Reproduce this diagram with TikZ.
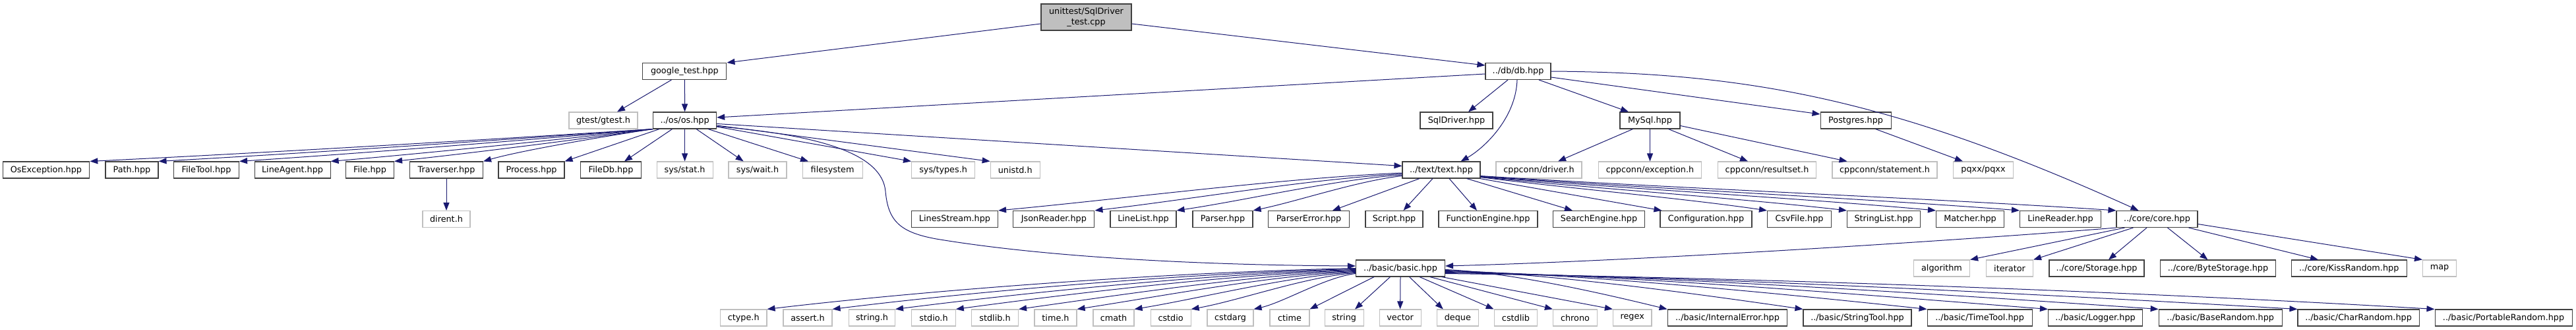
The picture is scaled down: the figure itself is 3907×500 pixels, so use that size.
\documentclass[tikz,border=0pt]{standalone}
\usepackage{fontspec}
\setmainfont{DejaVu Sans}
\usetikzlibrary{arrows.meta}
\definecolor{edgecol}{HTML}{191970}
\definecolor{boxcol}{HTML}{404040}
\definecolor{extcol}{HTML}{BFBFBF}
\tikzset{
 box/.style={rectangle, minimum height=25pt, inner sep=0pt, fill=white, text=black},
 nb/.style={box, draw=boxcol, line width=1.1pt},
 ext/.style={box, draw=extcol, line width=1.1pt},
 rootbox/.style={box, draw=boxcol, fill=extcol, line width=1.1pt, minimum height=40pt, align=center},
 dep/.style={draw=edgecol, line width=1pt, -{Triangle[length=12pt,width=9pt]}},
 w/.style={minimum width=#1}
}
\begin{document}
\begin{tikzpicture}[x=1pt,y=-1pt,font=\fontsize{12.8pt}{15.3pt}\selectfont]
\useasboundingbox[fill=white] (0,0) rectangle (3907,500);
% row 0
\node[rootbox, w=137pt] (root) at (1647.5,26) {unittest/SqlDriver\\\_test.cpp};
% row 1
\node[nb, w=127pt] (gt) at (1038.4,108) {google\_test.hpp};
\node[nb, w=99pt] (db) at (2302.5,108) {../db/db.hpp};
% row 2
\node[ext, w=104pt] (gtest) at (915,182.5) {gtest/gtest.h};
\node[nb, w=96pt] (os) at (1038.6,182.5) {../os/os.hpp};
\node[nb, w=110pt] (sqld) at (2209,182.5) {SqlDriver.hpp};
\node[nb, w=91pt] (mysql) at (2502.5,182.5) {MySql.hpp};
\node[nb, w=107pt] (pg) at (2814.6,182.5) {Postgres.hpp};
% row 3
\node[nb, w=131.6pt] (osex) at (70,257.5) {OsException.hpp};
\node[nb, w=80pt] (path) at (200,257.5) {Path.hpp};
\node[nb, w=99pt] (filetool) at (313,257.5) {FileTool.hpp};
\node[nb, w=115pt] (lineagent) at (443.6,257.5) {LineAgent.hpp};
\node[nb, w=73pt] (file) at (561,257.5) {File.hpp};
\node[nb, w=111pt] (trav) at (677,257.5) {Traverser.hpp};
\node[nb, w=100pt] (proc) at (806,257.5) {Process.hpp};
\node[nb, w=91.5pt] (filedb) at (926.5,257.5) {FileDb.hpp};
\node[ext, w=85pt] (stat) at (1038.6,257.5) {sys/stat.h};
\node[ext, w=88pt] (wait) at (1149,257.5) {sys/wait.h};
\node[ext, w=91pt] (fs) at (1262.6,257.5) {filesystem};
\node[ext, w=96pt] (types) at (1430.6,257.5) {sys/types.h};
\node[ext, w=75pt] (unistd) at (1539.7,257.5) {unistd.h};
\node[nb, w=118pt] (text) at (2186,257.5) {../text/text.hpp};
\node[ext, w=130pt] (drv) at (2334,257.5) {cppconn/driver.h};
\node[ext, w=156pt] (exc) at (2502.5,257.5) {cppconn/exception.h};
\node[ext, w=149pt] (rs) at (2680,257.5) {cppconn/resultset.h};
\node[ext, w=159pt] (stmt) at (2858.5,257.5) {cppconn/statement.h};
\node[ext, w=91pt] (pqxx) at (3008,257.5) {pqxx/pqxx};
% row 4
\node[ext, w=72pt] (dirent) at (677,332) {dirent.h};
\node[nb, w=131pt] (ls) at (1448,332) {LinesStream.hpp};
\node[nb, w=123pt] (jr) at (1598.4,332) {JsonReader.hpp};
\node[nb, w=100pt] (ll) at (1734,332) {LineList.hpp};
\node[nb, w=91pt] (parser) at (1854.5,332) {Parser.hpp};
\node[nb, w=123pt] (perr) at (1985,332) {ParserError.hpp};
\node[nb, w=87pt] (script) at (2114.5,332) {Script.hpp};
\node[nb, w=150pt] (fe) at (2257,332) {FunctionEngine.hpp};
\node[nb, w=139pt] (se) at (2425,332) {SearchEngine.hpp};
\node[nb, w=139pt] (conf) at (2587.5,332) {Configuration.hpp};
\node[nb, w=97pt] (csv) at (2729,332) {CsvFile.hpp};
\node[nb, w=111pt] (sl) at (2857,332) {StringList.hpp};
\node[nb, w=103pt] (matcher) at (2988,332) {Matcher.hpp};
\node[nb, w=123pt] (lr) at (3125,332) {LineReader.hpp};
\node[nb, w=123pt] (core) at (3271.5,332) {../core/core.hpp};
% row 5
\node[nb, w=135pt] (basic) at (2124,406.5) {../basic/basic.hpp};
\node[ext, w=85pt] (algo) at (2945,406.5) {algorithm};
\node[ext, w=71pt] (iter) at (3048,406.5) {iterator};
\node[nb, w=144pt] (storage) at (3180,406.5) {../core/Storage.hpp};
\node[nb, w=175pt] (bytes) at (3364,406.5) {../core/ByteStorage.hpp};
\node[nb, w=175pt] (kiss) at (3562.7,406.5) {../core/KissRandom.hpp};
\node[ext, w=51pt] (map) at (3700,406.5) {map};
% row 6
\node[ext, w=70.6pt] (ctype) at (1127.7,481.5) {ctype.h};
\node[ext, w=74pt] (assert) at (1225,481.5) {assert.h};
\node[ext, w=70pt] (stringh) at (1322.5,481.5) {string.h};
\node[ext, w=66.5pt] (stdio) at (1416,481.5) {stdio.h};
\node[ext, w=71pt] (stdlib) at (1509,481.5) {stdlib.h};
\node[ext, w=64pt] (timeh) at (1601,481.5) {time.h};
\node[ext, w=62pt] (cmath) at (1689,481.5) {cmath};
\node[ext, w=61pt] (cstdio) at (1775.6,481.5) {cstdio};
\node[ext, w=70pt] (cstdarg) at (1866,481.5) {cstdarg};
\node[ext, w=60pt] (ctime) at (1956,481.5) {ctime};
\node[ext, w=59pt] (string) at (2038.6,481.5) {string};
\node[ext, w=63pt] (vector) at (2123.6,481.5) {vector};
\node[ext, w=62.5pt] (deque) at (2210.8,481.5) {deque};
\node[ext, w=65.6pt] (cstdlib) at (2299,481.5) {cstdlib};
\node[ext, w=67pt] (chrono) at (2389,481.5) {chrono};
\node[ext, w=58.5pt] (regex) at (2475.7,481.5) {regex};
\node[nb, w=181.7pt] (ierr) at (2620,481.5) {../basic/InternalError.hpp};
\node[nb, w=164pt] (stool) at (2817,481.5) {../basic/StringTool.hpp};
\node[nb, w=159pt] (ttool) at (3002.6,481.5) {../basic/TimeTool.hpp};
\node[nb, w=143pt] (logger) at (3178,481.5) {../basic/Logger.hpp};
\node[nb, w=187pt] (brand) at (3367.7,481.5) {../basic/BaseRandom.hpp};
\node[nb, w=184pt] (crand) at (3577,481.5) {../basic/CharRandom.hpp};
\node[nb, w=208pt] (prand) at (3797,481.5) {../basic/PortableRandom.hpp};

% ---- edges ----
\draw[dep] ([yshift=-10pt]root.west) -- (gt.north east);
\draw[dep] ([yshift=-10pt]root.east) -- ([yshift=9pt]db.west);
\draw[dep] ([xshift=-20pt]gt.south) -- ([xshift=21pt]gtest.north);
\draw[dep] (gt.south) -- (os.north);
\draw[dep] ([yshift=-4pt]db.west) -- ([yshift=4.5pt]os.east);
\draw[dep] ([xshift=-15.5pt]db.south) -- ([xshift=18pt]sqld.north);
\draw[dep] ([xshift=-1.5pt]db.south) .. controls (2299,180) and (2250,225) .. ([xshift=29.6pt]text.north);
\draw[dep] ([xshift=31.5pt]db.south) -- ([xshift=-32.5pt]mysql.north);
\draw[dep] ([yshift=-9pt]db.east) -- ([yshift=9.5pt]pg.west);
\draw[dep] (db.east) .. controls (2650,110) and (2870,150) .. ([xshift=-28pt]core.north);
% MySql, Postgres
\draw[dep] ([xshift=-26pt]mysql.south) -- ([xshift=29pt]drv.north);
\draw[dep] (mysql.south) -- (exc.north);
\draw[dep] ([xshift=28pt]mysql.south) -- ([xshift=-29pt]rs.north);
\draw[dep] ([yshift=-8pt]mysql.east) -- ([xshift=-57pt]stmt.north);
\draw[dep] ([xshift=30pt]pg.south) -- ([xshift=-31pt]pqxx.north);
% os fan
\draw[dep] (os.south west) .. controls (734,212) and (392,232) .. (osex.north east);
\draw[dep] (os.south west) .. controls (765,212) and (465,232) .. (path.north east);
\draw[dep] (os.south west) .. controls (803,212) and (551,232) .. (filetool.north east);
\draw[dep] (os.south west) .. controls (844,212) and (648,232) .. (lineagent.north east);
\draw[dep] (os.south west) .. controls (873,212) and (715,232) .. (file.north east);
\draw[dep] (os.south west) .. controls (920,206) and (790,228) .. (trav.north east);
\draw[dep] ([xshift=10pt]os.south west) -- (proc.north east);
\draw[dep] ([xshift=-19pt]os.south) -- ([xshift=20.5pt]filedb.north);
\draw[dep] (os.south) -- (stat.north);
\draw[dep] ([xshift=17.5pt]os.south) -- ([xshift=-21.3pt]wait.north);
\draw[dep] ([xshift=35.5pt]os.south) -- ([xshift=-36.6pt]fs.north);
\draw[dep] ([yshift=-9.5pt]os.east) -- (types.north west);
\draw[dep] ([yshift=-7.5pt]os.east) -- (unistd.north west);
\draw[dep] ([yshift=-5pt]os.east) -- ([yshift=6pt]text.west);
\draw[dep] ([yshift=-9pt]os.east) .. controls (1250,205) and (1338,235) .. (1343,290)
   .. controls (1347,335) and (1365,352) .. (1420,362)
   .. controls (1600,392) and (1850,402) .. ([yshift=3.5pt]basic.west);
\draw[dep] (trav.south) -- (dirent.north);
% text fan
\draw[dep] ([yshift=-4.5pt]text.west) .. controls (1943,270) and (1698,302) .. (ls.north east);
\draw[dep] ([yshift=-6pt]text.west) .. controls (1987,271) and (1800,303) .. (jr.north east);
\draw[dep] ([yshift=-7.5pt]text.west) .. controls (2024,272) and (1887,304) .. (ll.north east);
\draw[dep] ([yshift=-9pt]text.west) .. controls (2059,274) and (1968,305) .. (parser.north east);
\draw[dep] ([xshift=-33pt]text.south) -- ([xshift=36pt]perr.north);
\draw[dep] ([xshift=-13pt]text.south) -- ([xshift=14pt]script.north);
\draw[dep] ([xshift=12pt]text.south) -- ([xshift=-17pt]fe.north);
\draw[dep] ([xshift=38.5pt]text.south) -- ([xshift=-40pt]se.north);
\draw[dep] ([xshift=-1pt]text.south east) -- ([xshift=3pt]conf.north west);
\draw[dep] ([yshift=2pt]text.south east) .. controls (2376,285) and (2550,300) .. (csv.north west);
\draw[dep] ([yshift=2.5pt]text.south east) .. controls (2412,285) and (2635,300) .. (sl.north west);
\draw[dep] ([yshift=3pt]text.south east) .. controls (2453,285) and (2729,300) .. (matcher.north west);
\draw[dep] ([yshift=3.5pt]text.south east) .. controls (2491,285) and (2818,300) .. (lr.north west);
\draw[dep] ([yshift=4pt]text.south east) .. controls (2535,285) and (2921,300) .. (core.north west);
% core fan
\draw[dep] (core.south west) .. controls (3000,362) and (2500,395) .. ([yshift=3.5pt]basic.east);
\draw[dep] ([xshift=13pt]core.south west) -- (algo.north east);
\draw[dep] ([xshift=26pt]core.south west) -- (iter.north east);
\draw[dep] ([xshift=-15.5pt]core.south) -- ([xshift=18pt]storage.north);
\draw[dep] ([xshift=16pt]core.south) -- ([xshift=-15.6pt]bytes.north);
\draw[dep] ([xshift=-14pt]core.south east) -- ([xshift=-46.7pt]kiss.north);
\draw[dep] ([yshift=-7.5pt]core.east) -- (map.north west);
% basic fan left
\draw[dep] (basic.west) .. controls (1788,412) and (1431,437) .. (ctype.north east);
\draw[dep] ([yshift=-1pt]basic.west) .. controls (1818,413) and (1500,439) .. (assert.north east);
\draw[dep] ([yshift=-2pt]basic.west) .. controls (1847,414) and (1567,442) .. (stringh.north east);
\draw[dep] ([yshift=-3pt]basic.west) .. controls (1874,415) and (1631,444) .. (stdio.north east);
\draw[dep] ([yshift=-4pt]basic.west) .. controls (1903,416) and (1698,447) .. (stdlib.north east);
\draw[dep] ([yshift=-5pt]basic.west) .. controls (1929,417) and (1760,449) .. (timeh.north east);
\draw[dep] ([yshift=-6pt]basic.west) .. controls (1955,418) and (1821,452) .. (cmath.north east);
\draw[dep] ([yshift=-7pt]basic.west) .. controls (1981,419) and (1881,455) .. (cstdio.north east);
\draw[dep] ([yshift=-8pt]basic.west) .. controls (2010,420) and (1947,458) .. (cstdarg.north east);
\draw[dep] ([xshift=-40pt]basic.south) -- (ctime.north east);
\draw[dep] ([xshift=-15.5pt]basic.south) -- ([xshift=16.5pt]string.north);
\draw[dep] (basic.south) -- (vector.north);
\draw[dep] ([xshift=13.5pt]basic.south) -- ([xshift=-22pt]deque.north);
\draw[dep] ([xshift=29pt]basic.south) -- (cstdlib.north west);
\draw[dep] ([xshift=44.75pt]basic.south) -- (chrono.north west);
\draw[dep] ([xshift=62.5pt]basic.south) -- (regex.north west);
% basic fan right
\draw[dep] ([yshift=-2pt]basic.east) .. controls (2293,413) and (2428,444) .. (ierr.north west);
\draw[dep] ([yshift=-3pt]basic.east) .. controls (2354,415) and (2572,445) .. (stool.north west);
\draw[dep] ([yshift=-4pt]basic.east) .. controls (2410,416) and (2702,445) .. (ttool.north west);
\draw[dep] ([yshift=-5pt]basic.east) .. controls (2466,417) and (2832,447) .. (logger.north west);
\draw[dep] ([yshift=-6pt]basic.east) .. controls (2516,418) and (2949,446) .. (brand.north west);
\draw[dep] ([yshift=-7pt]basic.east) .. controls (2580,419) and (3097,446) .. (crand.north west);
\draw[dep] ([yshift=-8pt]basic.east) .. controls (2642,420) and (3243,442) .. (prand.north west);
\end{tikzpicture}
\end{document}
